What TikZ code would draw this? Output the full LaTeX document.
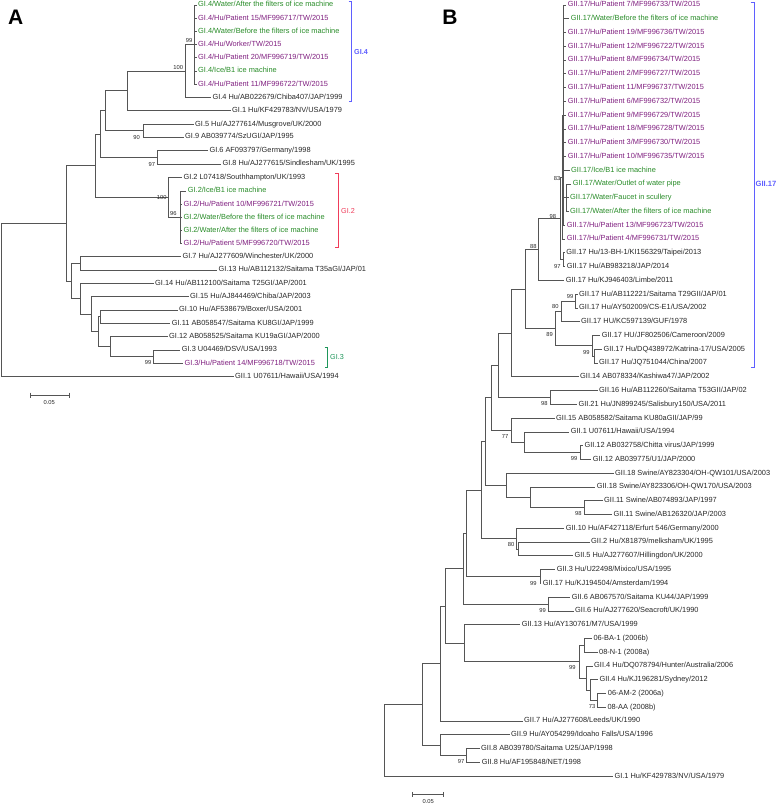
\documentclass[tikz,border=0pt]{standalone}
\usepackage{fontspec}
\setmainfont{Liberation Sans}
\definecolor{pur}{RGB}{128,32,128}
\definecolor{grn}{RGB}{40,140,40}
\definecolor{txt}{RGB}{40,40,40}
\definecolor{lnc}{RGB}{85,85,85}
\definecolor{bblue}{RGB}{95,95,255}
\definecolor{bred}{RGB}{240,60,90}
\definecolor{bgrn}{RGB}{30,150,90}
\tikzset{
 br/.style={draw=lnc, line width=0.75pt},
 lbl/.style={anchor=west, inner xsep=1.5pt, inner ysep=0pt, xshift=-1.5pt, text height=5.3pt, text depth=1.5pt, font=\fontsize{7.4}{8}\selectfont, text=txt},
 pu/.style={lbl, text=pur},
 gn/.style={lbl, text=grn},
 bs/.style={inner sep=0pt, font=\fontsize{5.8}{6}\selectfont, text=txt},
 brk/.style={line width=0.8pt},
 clab/.style={anchor=west, inner sep=0pt, font=\fontsize{7.2}{8}\selectfont},
 panel/.style={inner sep=0pt, font=\fontsize{21}{21}\selectfont\bfseries},
}
\newcommand\leafnode[5]{\node[#1] (#2) at (#3,#4) {#5};}
\newcommand\kid[2]{\draw[br] (#1) |- (#2);}
\begin{document}
\begin{tikzpicture}[x=1pt,y=-1pt]
\path[use as bounding box, fill=white] (0,0) rectangle (778,806);
% ================= Panel A =================
\node[panel] (pA) at (15.7,17.5) {A};
\leafnode{gn}{a1}{198}{5.0}{GI.4/Water/After the filters of ice machine}
\leafnode{pu}{a2}{198}{18.2}{GI.4/Hu/Patient 15/MF996717/TW/2015}
\leafnode{gn}{a3}{198}{31.5}{GI.4/Water/Before the filters of ice machine}
\leafnode{pu}{a4}{198}{44.6}{GI.4/Hu/Worker/TW/2015}
\leafnode{pu}{a5}{198}{57.8}{GI.4/Hu/Patient 20/MF996719/TW/2015}
\leafnode{gn}{a6}{198}{71.0}{GI.4/Ice/B1 ice machine}
\leafnode{pu}{a7}{198}{84.3}{GI.4/Hu/Patient 11/MF996722/TW/2015}
\leafnode{lbl}{a8}{212.3}{97.7}{GI.4 Hu/AB022679/Chiba407/JAP/1999}
\leafnode{lbl}{a9}{232}{110.5}{GI.1 Hu/KF429783/NV/USA/1979}
\leafnode{lbl}{a10}{195}{124.3}{GI.5 Hu/AJ277614/Musgrove/UK/2000}
\leafnode{lbl}{a11}{185}{136.9}{GI.9 AB039774/SzUGI/JAP/1995}
\leafnode{lbl}{a12}{209.3}{150.7}{GI.6 AF093797/Germany/1998}
\leafnode{lbl}{a13}{222.3}{164}{GI.8 Hu/AJ277615/Sindlesham/UK/1995}
\leafnode{lbl}{a14}{183.3}{177.3}{GI.2 L07418/Southhampton/UK/1993}
\leafnode{gn}{a15}{187.7}{191}{GI.2/Ice/B1 ice machine}
\leafnode{pu}{a16}{183.3}{204.1}{GI.2/Hu/Patient 10/MF996721/TW/2015}
\leafnode{gn}{a17}{183.3}{217.3}{GI.2/Water/Before the filters of ice machine}
\leafnode{gn}{a18}{183.3}{230.4}{GI.2/Water/After the filters of ice machine}
\leafnode{pu}{a19}{183.3}{243.7}{GI.2/Hu/Patient 5/MF996720/TW/2015}
\leafnode{lbl}{a20}{182.3}{256.8}{GI.7 Hu/AJ277609/Winchester/UK/2000}
\leafnode{lbl}{a21}{218.3}{270}{GI.13 Hu/AB112132/Saitama T35aGI/JAP/01}
\leafnode{lbl}{a22}{155}{283.3}{GI.14 Hu/AB112100/Saitama T25GI/JAP/2001}
\leafnode{lbl}{a23}{190}{296.7}{GI.15 Hu/AJ844469/Chiba/JAP/2003}
\leafnode{lbl}{a24}{179}{310}{GI.10 Hu/AF538679/Boxer/USA/2001}
\leafnode{lbl}{a25}{171.7}{323.3}{GI.11 AB058547/Saitama KU8GI/JAP/1999}
\leafnode{lbl}{a26}{169}{336.7}{GI.12 AB058525/Saitama KU19aGI/JAP/2000}
\leafnode{lbl}{a27}{181.7}{350}{GI.3 U04469/DSV/USA/1993}
\leafnode{pu}{a28}{184.3}{363.3}{GI.3/Hu/Patient 14/MF996718/TW/2015}
\leafnode{lbl}{a29}{235}{376.7}{GII.1 U07611/Hawaii/USA/1994}
\coordinate (nA99) at (194.3,44.6);
\coordinate (nA100) at (185.5,71.1);
\coordinate (nA127) at (127,90.8);
\coordinate (nA90) at (143,130.6);
\coordinate (nA105) at (105,110.7);
\coordinate (nA97) at (157,157.3);
\coordinate (nA100b) at (100,134);
\coordinate (nA96) at (180,217.3);
\coordinate (nA100c) at (168.3,197.3);
\coordinate (nA95) at (95,165.65);
\coordinate (nA80) at (80,263.4);
\coordinate (nA153) at (153,356.7);
\coordinate (nA110) at (110,346.7);
\coordinate (nA100d) at (100,316.65);
\coordinate (nA98) at (98.3,331.7);
\coordinate (nA92) at (91.7,314.2);
\coordinate (nA80b) at (80,298.75);
\coordinate (nA72) at (71.7,281.1);
\coordinate (nA67) at (66.7,223.4);
\coordinate (nAr) at (1.7,300.05);
\foreach \i in {1,...,7} {\draw[br] (nA99) |- (a\i.west);}
\kid{nA100}{nA99}\kid{nA100}{a8.west}
\kid{nA127}{nA100}\kid{nA127}{a9.west}
\kid{nA90}{a10.west}\kid{nA90}{a11.west}
\kid{nA105}{nA127}\kid{nA105}{nA90}
\kid{nA97}{a12.west}\kid{nA97}{a13.west}
\kid{nA100b}{nA105}\kid{nA100b}{nA97}
\foreach \i in {15,...,19} {\draw[br] (nA96) |- (a\i.west);}
\kid{nA100c}{a14.west}\kid{nA100c}{nA96}
\kid{nA95}{nA100b}\kid{nA95}{nA100c}
\kid{nA80}{a20.west}\kid{nA80}{a21.west}
\kid{nA153}{a27.west}\kid{nA153}{a28.west}
\kid{nA110}{a26.west}\kid{nA110}{nA153}
\kid{nA100d}{a24.west}\kid{nA100d}{a25.west}
\kid{nA98}{nA100d}\kid{nA98}{nA110}
\kid{nA92}{a23.west}\kid{nA92}{nA98}
\kid{nA80b}{a22.west}\kid{nA80b}{nA92}
\kid{nA72}{nA80}\kid{nA72}{nA80b}
\kid{nA67}{nA95}\kid{nA67}{nA72}
\kid{nAr}{nA67}\kid{nAr}{a29.west}
% bootstrap A
\node[bs] (bsA1) at (189.2,40.5) {99};
\node[bs] (bsA2) at (178.3,67.2) {100};
\node[bs] (bsA3) at (136.7,137.2) {90};
\node[bs] (bsA4) at (151.8,164.5) {97};
\node[bs] (bsA5) at (161.7,198) {100};
\node[bs] (bsA6) at (173.3,213.3) {96};
\node[bs] (bsA7) at (148,362.3) {99};
% brackets A
\draw[draw=bblue,brk] (348.5,1.7) -- (351.7,1.7) -- (351.7,101) -- (348.5,101);
\node[clab, text=bblue, font=\fontsize{7.2}{8}\selectfont\bfseries] (gA4) at (354,51.7) {GI.4};
\draw[draw=bred,brk] (335,173.3) -- (338.3,173.3) -- (338.3,247.3) -- (335,247.3);
\node[clab, text=bred] (gA2) at (341,210.7) {GI.2};
\draw[draw=bgrn,brk] (324.5,347.3) -- (327.7,347.3) -- (327.7,367.3) -- (324.5,367.3);
\node[clab, text=bgrn] (gA3) at (330,356.7) {GI.3};
% scale A
\draw[br] (30,392.5) -- (30,397.5) (30,395) -- (69,395) (69,392.5) -- (69,397.5);
\node[bs] (scA) at (49.3,402) {0.05};
% ================= Panel B =================
\node[panel] (pB) at (450,17.5) {B};
\leafnode{pu}{b0}{567.7}{5}{GII.17/Hu/Patient 7/MF996733/TW/2015}
\leafnode{gn}{b1}{570.7}{18.77}{GII.17/Water/Before the filters of ice machine}
\leafnode{pu}{b2}{567.7}{32.54}{GII.17/Hu/Patient 19/MF996736/TW/2015}
\leafnode{pu}{b3}{567.7}{46.31}{GII.17/Hu/Patient 12/MF996722/TW/2015}
\leafnode{pu}{b4}{567.7}{60.08}{GII.17/Hu/Patient 8/MF996734/TW/2015}
\leafnode{pu}{b5}{567.7}{73.85}{GII.17/Hu/Patient 2/MF996727/TW/2015}
\leafnode{pu}{b6}{567.7}{87.62}{GII.17/Hu/Patient 11/MF996737/TW/2015}
\leafnode{pu}{b7}{567.7}{101.39}{GII.17/Hu/Patient 6/MF996732/TW/2015}
\leafnode{pu}{b8}{567.7}{115.16}{GII.17/Hu/Patient 9/MF996729/TW/2015}
\leafnode{pu}{b9}{567.7}{128.93}{GII.17/Hu/Patient 18/MF996728/TW/2015}
\leafnode{pu}{b10}{567.7}{142.7}{GII.17/Hu/Patient 3/MF996730/TW/2015}
\leafnode{pu}{b11}{567.7}{156.47}{GII.17/Hu/Patient 10/MF996735/TW/2015}
\leafnode{gn}{b12}{571}{170.24}{GII.17/Ice/B1 ice machine}
\leafnode{gn}{b13}{572.7}{184.01}{GII.17/Water/Outlet of water pipe}
\leafnode{gn}{b14}{570}{197.78}{GII.17/Water/Faucet in scullery}
\leafnode{gn}{b15}{570}{211.55}{GII.17/Water/After the filters of ice machine}
\leafnode{pu}{b16}{566.7}{225.32}{GII.17/Hu/Patient 13/MF996723/TW/2015}
\leafnode{pu}{b17}{566.7}{239.09}{GII.17/Hu/Patient 4/MF996731/TW/2015}
\leafnode{lbl}{b18}{566.2}{252.86}{GII.17 Hu/13-BH-1/KI156329/Taipei/2013}
\leafnode{lbl}{b19}{566.7}{266.63}{GII.17 Hu/AB983218/JAP/2014}
\leafnode{lbl}{b20}{565.7}{280.4}{GII.17 Hu/KJ946403/Limbe/2011}
\leafnode{lbl}{b21}{579}{294.17}{GII.17 Hu/AB112221/Saitama T29GII/JAP/01}
\leafnode{lbl}{b22}{579}{307.94}{GII.17 Hu/AY502009/CS-E1/USA/2002}
\leafnode{lbl}{b23}{581}{321.71}{GII.17 HU/KC597139/GUF/1978}
\leafnode{lbl}{b24}{601.7}{335.48}{GII.17 HU/JF802506/Cameroon/2009}
\leafnode{lbl}{b25}{603.3}{349.25}{GII.17 Hu/DQ438972/Katrina-17/USA/2005}
\leafnode{lbl}{b26}{599}{363.02}{GII.17 Hu/JQ751044/China/2007}
\leafnode{lbl}{b27}{580}{376.79}{GII.14 AB078334/Kashiwa47/JAP/2002}
\leafnode{lbl}{b28}{599}{390.56}{GII.16 Hu/AB112260/Saitama T53GII/JAP/02}
\leafnode{lbl}{b29}{578.3}{404.33}{GII.21 Hu/JN899245/Salisbury150/USA/2011}
\leafnode{lbl}{b30}{556}{418.1}{GII.15 AB058582/Saitama KU80aGII/JAP/99}
\leafnode{lbl}{b31}{570.7}{431.87}{GII.1 U07611/Hawaii/USA/1994}
\leafnode{lbl}{b32}{584.3}{445.64}{GII.12 AB032758/Chitta virus/JAP/1999}
\leafnode{lbl}{b33}{592.7}{459.41}{GII.12 AB039775/U1/JAP/2000}
\leafnode{lbl}{b34}{615}{473.18}{GII.18 Swine/AY823304/OH-QW101/USA/2003}
\leafnode{lbl}{b35}{596.7}{486.95}{GII.18 Swine/AY823306/OH-QW170/USA/2003}
\leafnode{lbl}{b36}{604}{500.72}{GII.11 Swine/AB074893/JAP/1997}
\leafnode{lbl}{b37}{613.3}{514.49}{GII.11 Swine/AB126320/JAP/2003}
\leafnode{lbl}{b38}{565.7}{528.26}{GII.10 Hu/AF427118/Erfurt 546/Germany/2000}
\leafnode{lbl}{b39}{591}{542.03}{GII.2 Hu/X81879/melksham/UK/1995}
\leafnode{lbl}{b40}{574.3}{555.8}{GII.5 Hu/AJ277607/Hillingdon/UK/2000}
\leafnode{lbl}{b41}{556.7}{569.57}{GII.3 Hu/U22498/Mixico/USA/1995}
\leafnode{lbl}{b42}{542.7}{583.34}{GII.17 Hu/KJ194504/Amsterdam/1994}
\leafnode{lbl}{b43}{571.7}{597.11}{GII.6 AB067570/Saitama KU44/JAP/1999}
\leafnode{lbl}{b44}{575}{610.88}{GII.6 Hu/AJ277620/Seacroft/UK/1990}
\leafnode{lbl}{b45}{521.7}{624.65}{GII.13 Hu/AY130761/M7/USA/1999}
\leafnode{lbl}{b46}{593.3}{638.42}{06-BA-1 (2006b)}
\leafnode{lbl}{b47}{599}{652.19}{08-N-1 (2008a)}
\leafnode{lbl}{b48}{594}{665.96}{GII.4 Hu/DQ078794/Hunter/Australia/2006}
\leafnode{lbl}{b49}{599.3}{679.73}{GII.4 Hu/KJ196281/Sydney/2012}
\leafnode{lbl}{b50}{607.7}{693.5}{06-AM-2 (2006a)}
\leafnode{lbl}{b51}{607.3}{707.27}{08-AA (2008b)}
\leafnode{lbl}{b52}{524}{721.04}{GII.7 Hu/AJ277608/Leeds/UK/1990}
\leafnode{lbl}{b53}{511}{734.81}{GII.9 Hu/AY054299/Idoaho Falls/USA/1996}
\leafnode{lbl}{b54}{481}{748.58}{GII.8 AB039780/Saitama U25/JAP/1998}
\leafnode{lbl}{b55}{481.7}{762.35}{GII.8 Hu/AF195848/NET/1998}
\leafnode{lbl}{b56}{614.3}{776.12}{GI.1 Hu/KF429783/NV/USA/1979}
\coordinate (nW) at (566,197.78);
\coordinate (nOut) at (563.5,115.16);
\coordinate (nB83) at (562,177.1);
\coordinate (nB97) at (563.3,259.75);
\coordinate (nB98) at (560.5,218.4);
\coordinate (nB88) at (538.3,249.4);
\coordinate (nB99a) at (575.7,301.05);
\coordinate (nB80) at (561.7,311.4);
\coordinate (nB99c) at (594,356.14);
\coordinate (nB99b) at (592.3,345.8);
\coordinate (nB89) at (555,328.6);
\coordinate (nB525) at (525,289);
\coordinate (nB511) at (511,332.9);
\coordinate (nB98b) at (550.7,397.45);
\coordinate (nB498) at (498.3,365.18);
\coordinate (nB99d) at (580,452.53);
\coordinate (nB524) at (524,442.2);
\coordinate (nB77) at (511,430.15);
\coordinate (nB491) at (491.7,397.67);
\coordinate (nB98c) at (584.3,507.6);
\coordinate (nB530) at (530,497.28);
\coordinate (nB506) at (506,485.23);
\coordinate (nB485) at (485,441.45);
\coordinate (nB518) at (518.3,548.92);
\coordinate (nB80b) at (516.7,538.59);
\coordinate (nB481) at (481.7,490.02);
\coordinate (nB99e) at (540,576.46);
\coordinate (nB466) at (466.7,533.24);
\coordinate (nB99f) at (548.3,604);
\coordinate (nB463) at (463.3,568.62);
\coordinate (nB584) at (584,645.3);
\coordinate (nB597) at (597.3,700.39);
\coordinate (nB590) at (590.7,690.06);
\coordinate (nB586) at (586.7,678.01);
\coordinate (nB99g) at (579,661.66);
\coordinate (nB464) at (464,643.16);
\coordinate (nB445) at (445.3,605.89);
\coordinate (nB440) at (440,663.47);
\coordinate (nB97b) at (466.7,755.47);
\coordinate (nB440b) at (440,745.14);
\coordinate (nB422) at (422.7,704.3);
\coordinate (nBr) at (384,740.2);
\foreach \i in {13,14,15} {\draw[br] (nW) |- (b\i.west);}
\foreach \i in {0,...,12,16} {\draw[br] (nOut) |- (b\i.west);}
\kid{nOut}{nW}
\kid{nB83}{nOut}\kid{nB83}{b17.west}
\kid{nB97}{b18.west}\kid{nB97}{b19.west}
\kid{nB98}{nB83}\kid{nB98}{nB97}
\kid{nB88}{nB98}\kid{nB88}{b20.west}
\kid{nB99a}{b21.west}\kid{nB99a}{b22.west}
\kid{nB80}{nB99a}\kid{nB80}{b23.west}
\kid{nB99c}{b25.west}\kid{nB99c}{b26.west}
\kid{nB99b}{b24.west}\kid{nB99b}{nB99c}
\kid{nB89}{nB80}\kid{nB89}{nB99b}
\kid{nB525}{nB88}\kid{nB525}{nB89}
\kid{nB511}{nB525}\kid{nB511}{b27.west}
\kid{nB98b}{b28.west}\kid{nB98b}{b29.west}
\kid{nB498}{nB511}\kid{nB498}{nB98b}
\kid{nB99d}{b32.west}\kid{nB99d}{b33.west}
\kid{nB524}{b31.west}\kid{nB524}{nB99d}
\kid{nB77}{b30.west}\kid{nB77}{nB524}
\kid{nB491}{nB498}\kid{nB491}{nB77}
\kid{nB98c}{b36.west}\kid{nB98c}{b37.west}
\kid{nB530}{b35.west}\kid{nB530}{nB98c}
\kid{nB506}{b34.west}\kid{nB506}{nB530}
\kid{nB485}{nB491}\kid{nB485}{nB506}
\kid{nB518}{b39.west}\kid{nB518}{b40.west}
\kid{nB80b}{b38.west}\kid{nB80b}{nB518}
\kid{nB481}{nB485}\kid{nB481}{nB80b}
\kid{nB99e}{b41.west}\kid{nB99e}{b42.west}
\kid{nB466}{nB481}\kid{nB466}{nB99e}
\kid{nB99f}{b43.west}\kid{nB99f}{b44.west}
\kid{nB463}{nB466}\kid{nB463}{nB99f}
\kid{nB584}{b46.west}\kid{nB584}{b47.west}
\kid{nB597}{b50.west}\kid{nB597}{b51.west}
\kid{nB590}{b49.west}\kid{nB590}{nB597}
\kid{nB586}{b48.west}\kid{nB586}{nB590}
\kid{nB99g}{nB584}\kid{nB99g}{nB586}
\kid{nB464}{b45.west}\kid{nB464}{nB99g}
\kid{nB445}{nB463}\kid{nB445}{nB464}
\kid{nB440}{nB445}\kid{nB440}{b52.west}
\kid{nB97b}{b54.west}\kid{nB97b}{b55.west}
\kid{nB440b}{b53.west}\kid{nB440b}{nB97b}
\kid{nB422}{nB440}\kid{nB422}{nB440b}
\kid{nBr}{nB422}\kid{nBr}{b56.west}
% bootstrap B
\node[bs] (bsB1) at (557,178.3) {83};
\node[bs] (bsB2) at (552.8,216.7) {98};
\node[bs] (bsB3) at (533.3,246.7) {88};
\node[bs] (bsB4) at (557.3,266.7) {97};
\node[bs] (bsB5) at (570,296.7) {99};
\node[bs] (bsB6) at (555.3,306.7) {80};
\node[bs] (bsB7) at (549.7,334.3) {89};
\node[bs] (bsB8) at (586.3,352.3) {99};
\node[bs] (bsB9) at (544.3,403.3) {98};
\node[bs] (bsB10) at (505,436.3) {77};
\node[bs] (bsB11) at (574,458.3) {99};
\node[bs] (bsB12) at (578.3,513.3) {98};
\node[bs] (bsB13) at (511,544.3) {80};
\node[bs] (bsB14) at (533.3,583.3) {99};
\node[bs] (bsB15) at (542.7,610) {99};
\node[bs] (bsB16) at (572.3,667.7) {99};
\node[bs] (bsB17) at (592,706) {73};
\node[bs] (bsB18) at (461,761) {97};
% bracket B
\draw[draw=bblue,brk] (750.7,2.3) -- (754,2.3) -- (754,367.3) -- (750.7,367.3);
\node[clab, text=bblue, font=\fontsize{7.6}{8}\selectfont\bfseries] (gB17) at (755.5,184.3) {GII.17};
% scale B
\draw[br] (412.3,791.8) -- (412.3,796.8) (412.3,794.3) -- (443.3,794.3) (443.3,791.8) -- (443.3,796.8);
\node[bs] (scB) at (428.3,801.3) {0.05};
\end{tikzpicture}
\end{document}
